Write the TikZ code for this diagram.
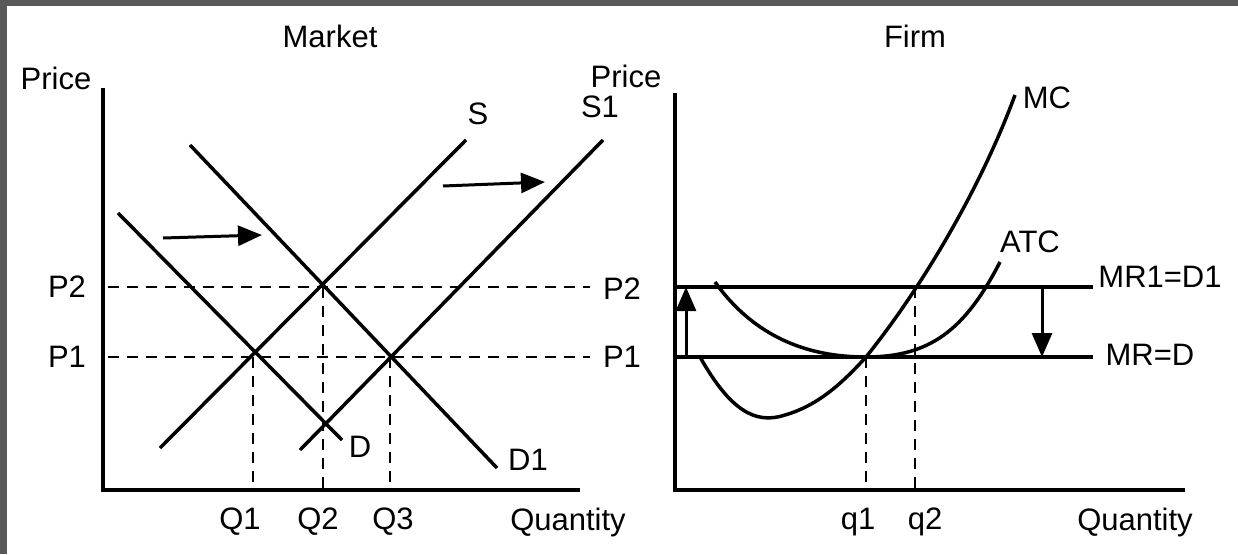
\documentclass[tikz,border=0pt]{standalone}
\usepackage{fontspec}
\setmainfont{Liberation Sans}
\usetikzlibrary{arrows.meta}
\tikzset{every picture/.style={line width=3.5pt}}
\tikzset{lbl/.style={font=\fontsize{31}{33}\selectfont,inner sep=0pt},
  guide/.style={line width=2pt,dash pattern=on 11pt off 8pt},
  movearrow/.style={-{Triangle[length=24pt,width=20pt]},line width=3pt}}
\begin{document}
\begin{tikzpicture}[x=1pt,y=1pt,yscale=-1]
		%background frame
		\fill[gray!70!black] (0,0) rectangle (1238,554);
		\fill[white] (7,6) rectangle (1238,554);
		\useasboundingbox (0,0) rectangle (1238,554);
		
		%Market axes
		\coordinate (mtop) at (103,88); \coordinate (morig) at (103,490); \coordinate (mend) at (580,490);
		\draw (mtop) -- (morig) -- (mend);
		\node[lbl] (mkt) at (330,36) {Market};
		\node[lbl] (mprice) at (56,78) {Price};
		\node[lbl] (mqty) at (568,522) {Quantity};
		%guides
		\coordinate (mp2a) at (108,287); \coordinate (mp2b) at (590,287);
		\coordinate (mp1a) at (108,357); \coordinate (mp1b) at (590,357);
		\draw[guide] (mp2a) -- (mp2b);
		\draw[guide] (mp1a) -- (mp1b);
		\draw[guide] (253,357) -- (253,490);
		\draw[guide] (323,287) -- (323,490);
		\draw[guide] (390,357) -- (390,490);
		\node[lbl] (lp2) at (67,287) {P2};
		\node[lbl] (lp1) at (67,357) {P1};
		\node[lbl] (rp2) at (622,289) {P2};
		\node[lbl] (rp1) at (622,357) {P1};
		\node[lbl] (q1) at (240,522) {Q1};
		\node[lbl] (q2) at (318,522) {Q2};
		\node[lbl] (q3) at (393,522) {Q3};
		%supply and demand
		\coordinate (sa) at (160,448); \coordinate (sb) at (466,140);
		\coordinate (s1a) at (300,450); \coordinate (s1b) at (603,140);
		\coordinate (da) at (118,213); \coordinate (db) at (342,440);
		\coordinate (d1a) at (190,145); \coordinate (d1b) at (497,468);
		\draw (sa) -- (sb);
		\draw (s1a) -- (s1b);
		\draw (da) -- (db);
		\draw (d1a) -- (d1b);
		\node[lbl] (s) at (478,114) {S};
		\node[lbl] (s1) at (600,107) {S1};
		\node[lbl] (d) at (360,447) {D};
		\node[lbl] (d1) at (528,460) {D1};
		\coordinate (ar1a) at (163,238); \coordinate (ar1b) at (262,235);
		\coordinate (ar2a) at (443,186); \coordinate (ar2b) at (545,182);
		\draw[movearrow] (ar1a) -- (ar1b);
		\draw[movearrow] (ar2a) -- (ar2b);
		
		%Firm axes
		\coordinate (ftop) at (675,93); \coordinate (forig) at (675,490); \coordinate (fend) at (1185,490);
		\draw (ftop) -- (forig) -- (fend);
		\node[lbl] (firm) at (915,36) {Firm};
		\node[lbl] (fprice) at (626,76) {Price};
		\node[lbl] (fqty) at (1135,522) {Quantity};
		\coordinate (mr1a) at (675,287); \coordinate (mr1b) at (1093,287);
		\coordinate (mra) at (675,357); \coordinate (mrb) at (1093,357);
		\draw (mr1a) -- (mr1b);
		\draw (mra) -- (mrb);
		\node[lbl] (mr1) at (1160,277) {MR1=D1};
		\node[lbl] (mr) at (1150,355) {MR=D};
		\draw[guide] (866,357) -- (866,490);
		\draw[guide] (915,287) -- (915,490);
		\node[lbl] (fq1) at (858,522) {q1};
		\node[lbl] (fq2) at (925,522) {q2};
		%cost curves
		\draw (700,357) .. controls (730,410) and (755,425) .. (785,415) .. controls (820,405) and (845,380) .. (866,357) .. controls (920,290) and (980,190) .. (1015,95);
		\draw (715,282) .. controls (760,345) and (820,357) .. (866,357) .. controls (930,357) and (965,330) .. (1000,262);
		\node[lbl] (mc) at (1047,98) {MC};
		\node[lbl] (atc) at (1030,242) {ATC};
		\coordinate (upa) at (686,357); \coordinate (upb) at (686,287);
		\coordinate (dna) at (1042,287); \coordinate (dnb) at (1042,357);
		\draw[movearrow] (upa) -- (upb);
		\draw[movearrow] (dna) -- (dnb);
	\end{tikzpicture}
\end{document}
